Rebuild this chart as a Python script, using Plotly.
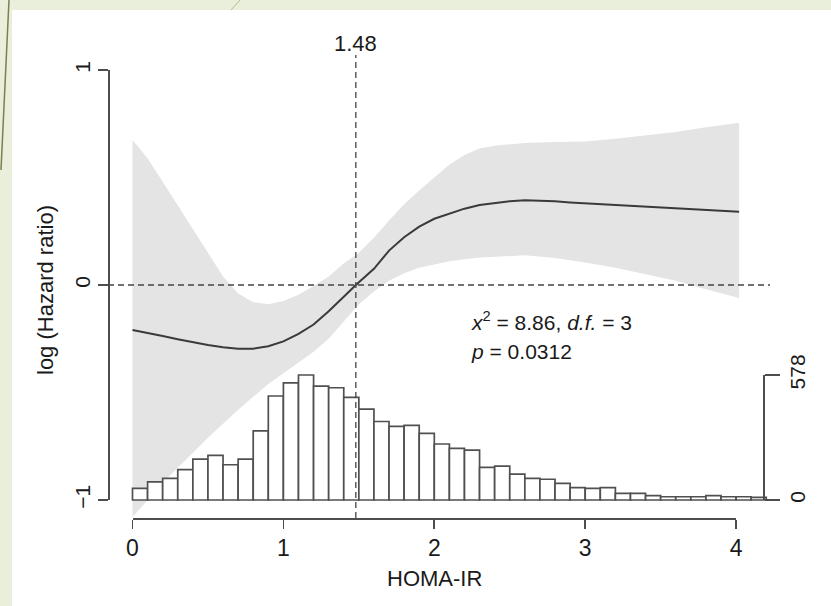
import plotly.graph_objects as go

W, H = 831, 606

# ---------------- data ----------------
curve_x = [0.00, 0.10, 0.20, 0.30, 0.40, 0.50, 0.60, 0.70, 0.80, 0.90, 1.00, 1.10, 1.20,
           1.30, 1.40, 1.48, 1.60, 1.70, 1.80, 1.90, 2.00, 2.10, 2.20, 2.30, 2.40, 2.50,
           2.60, 2.70, 2.80, 2.90, 3.00, 3.20, 3.40, 3.60, 3.80, 4.02]
curve_y = [-0.209, -0.222, -0.237, -0.252, -0.266, -0.279, -0.290, -0.296, -0.296, -0.285,
           -0.262, -0.227, -0.184, -0.122, -0.055, 0.000, 0.075, 0.160, 0.222, 0.271,
           0.308, 0.332, 0.355, 0.372, 0.382, 0.390, 0.394, 0.393, 0.389, 0.384, 0.380,
           0.372, 0.365, 0.358, 0.350, 0.341]

band_x = [0.00, 0.10, 0.20, 0.30, 0.40, 0.50, 0.60, 0.70, 0.80, 0.90, 1.00, 1.10, 1.20,
          1.30, 1.40, 1.50, 1.60, 1.70, 1.80, 1.90, 2.00, 2.10, 2.20, 2.30, 2.40, 2.60,
          2.80, 3.00, 3.20, 3.40, 3.60, 3.80, 4.02]
band_upper = [0.674, 0.59, 0.48, 0.37, 0.26, 0.145, 0.04, -0.04, -0.08, -0.09, -0.075,
              -0.045, -0.005, 0.04, 0.10, 0.15, 0.22, 0.30, 0.375, 0.44, 0.50, 0.56, 0.605,
              0.635, 0.648, 0.66, 0.665, 0.668, 0.68, 0.695, 0.712, 0.734, 0.755]
band_lower = [-1.08, -1.00, -0.92, -0.85, -0.78, -0.71, -0.645, -0.58, -0.52, -0.46, -0.41,
              -0.36, -0.31, -0.25, -0.17, -0.09, -0.03, 0.02, 0.055, 0.08, 0.095, 0.11,
              0.12, 0.128, 0.133, 0.138, 0.125, 0.105, 0.08, 0.05, 0.02, -0.02, -0.06]

hist_counts = [54, 84, 100, 140, 189, 206, 163, 189, 320, 481, 542, 578, 527, 519, 475,
               420, 363, 340, 345, 308, 259, 239, 231, 151, 157, 120, 100, 96, 77, 57,
               54, 57, 31, 31, 20, 15, 15, 15, 20, 15, 15, 12]
BIN_W = 0.1
hist_centers = [BIN_W * (i + 0.5) for i in range(len(hist_counts))]

x_ticks = [0, 1, 2, 3, 4]
y_ticks = [-1, 0, 1]
y_ticktext = ["\u22121", "0", "1"]
count_max = 578
cut_point = 1.48

# ---------------- pixel mapping helpers ----------------
X0_PX, PX_PER_X = 132.5, 150.9      # x = 0 at px 132.5
Y0_PX, PX_PER_V = 285.0, 215.0      # logHR = 0 at py 285


def px2x(px):
    return (px - X0_PX) / PX_PER_X


def py2v(py):
    return (Y0_PX - py) / PX_PER_V


def pfx(px):
    return px / W


def pfy(py):
    return 1 - py / H


HIST_BASE_PY, HIST_TOP_PY = 500.0, 375.0
cnt_per_px = count_max / (HIST_BASE_PY - HIST_TOP_PY)
cnt_range = [-(H - HIST_BASE_PY) * cnt_per_px, HIST_BASE_PY * cnt_per_px]

FONT = "Arial, Liberation Sans, Helvetica, sans-serif"
TXT = "#1a1a1a"
AX = "#4d4d4d"

fig = go.Figure()

# confidence band
fig.add_trace(go.Scatter(
    x=band_x + band_x[::-1], y=band_upper + band_lower[::-1],
    fill="toself", fillcolor="#e4e4e4", line=dict(width=0), mode="lines",
    hoverinfo="skip", showlegend=False))

# spline curve
fig.add_trace(go.Scatter(
    x=curve_x, y=curve_y, mode="lines", line=dict(color="#3a3a3a", width=2),
    showlegend=False))

# histogram
fig.add_trace(go.Bar(
    x=hist_centers, y=hist_counts, width=BIN_W, yaxis="y2",
    marker=dict(color="white", line=dict(color="#505050", width=1.7)),
    showlegend=False))

# dummy traces to create the axis subplots
fig.add_trace(go.Scatter(x=[None], y=[None], xaxis="x2", yaxis="y", showlegend=False))
fig.add_trace(go.Scatter(x=[None], y=[None], xaxis="x", yaxis="y3", showlegend=False))
fig.add_trace(go.Scatter(x=[None], y=[None], xaxis="x", yaxis="y4", showlegend=False))

hidden = dict(visible=False, showgrid=False, zeroline=False, fixedrange=True)

fig.update_layout(
    width=W, height=H, margin=dict(l=0, r=0, t=0, b=0),
    template="none",
    paper_bgcolor="#e9efda", plot_bgcolor="rgba(0,0,0,0)",
    showlegend=False, bargap=0,
    xaxis=dict(range=[px2x(0), px2x(W)], domain=[0, 1], **hidden),
    yaxis=dict(range=[py2v(H), py2v(0)], domain=[0, 1], **hidden),
    yaxis2=dict(range=cnt_range, overlaying="y", **hidden),
    xaxis2=dict(
        domain=[pfx(X0_PX), pfx(X0_PX + 4 * PX_PER_X)], range=[0, 4],
        anchor="free", position=pfy(518), side="bottom",
        showline=True, linecolor=AX, linewidth=1.7,
        ticks="outside", ticklen=9, tickwidth=1.7, tickcolor=AX,
        tickvals=x_ticks, tickfont=dict(family=FONT, size=23, color=TXT),
        showgrid=False, zeroline=False, fixedrange=True),
    yaxis3=dict(
        domain=[pfy(HIST_BASE_PY), pfy(HIST_TOP_PY)], range=[0, count_max],
        anchor="free", position=pfx(763), side="right",
        showline=True, linecolor=AX, linewidth=1.7,
        ticks="outside", ticklen=15, tickwidth=1.7, tickcolor=AX,
        tickvals=[0, count_max], tickangle=-90,
        tickfont=dict(family=FONT, size=21, color=TXT),
        showgrid=False, zeroline=False, fixedrange=True),
    yaxis4=dict(
        domain=[pfy(500), pfy(70)], range=[-1, 1],
        anchor="free", position=pfx(108), side="left",
        showline=True, linecolor=AX, linewidth=1.7,
        ticks="outside", ticklen=10, tickwidth=1.7, tickcolor=AX,
        tickvals=y_ticks, ticktext=y_ticktext, tickangle=-90,
        tickfont=dict(family=FONT, size=21, color=TXT),
        showgrid=False, zeroline=False, fixedrange=True),
)

shapes = [
    # white picture area over slide background
    dict(type="rect", xref="paper", yref="paper", x0=pfx(12), x1=1, y0=0, y1=pfy(10),
         fillcolor="white", line=dict(width=0), layer="below"),
    # decorative slide lines
    dict(type="line", xref="paper", yref="paper", x0=pfx(9), y0=1, x1=pfx(1), y1=pfy(170),
         line=dict(color="#7d7f4e", width=1.5), layer="below"),
    dict(type="line", xref="paper", yref="paper", x0=pfx(240), y0=1, x1=pfx(231), y1=pfy(10),
         line=dict(color="#b7bb95", width=1), layer="below"),
    # reference lines
    dict(type="line", xref="x", yref="y", x0=px2x(108), x1=px2x(770), y0=0, y1=0,
         line=dict(color="#444444", width=1.3, dash="6px,4px"), layer="above"),
    dict(type="line", xref="x", yref="paper", x0=cut_point, x1=cut_point,
         y0=pfy(518), y1=pfy(55),
         line=dict(color="#444444", width=1.3, dash="6px,4px"), layer="above"),
]
fig.update_layout(shapes=shapes)

annotations = [
    dict(text=f"{cut_point:.2f}", xref="x", yref="paper", x=cut_point, y=pfy(44),
         showarrow=False, font=dict(family=FONT, size=22, color=TXT),
         xanchor="center", yanchor="middle"),
    dict(text="HOMA-IR", xref="x", yref="paper", x=2, y=pfy(578),
         showarrow=False, font=dict(family=FONT, size=22, color=TXT),
         xanchor="center", yanchor="middle"),
    dict(text="log (Hazard ratio)", xref="paper", yref="paper", x=pfx(45), y=pfy(290),
         textangle=-90, showarrow=False, font=dict(family=FONT, size=22, color=TXT),
         xanchor="center", yanchor="middle"),
    dict(text="<i>x</i><sup>2</sup> = 8.86, <i>d.f.</i> = 3", xref="paper", yref="paper",
         x=pfx(469), y=pfy(321), showarrow=False,
         font=dict(family=FONT, size=21, color=TXT), xanchor="left", yanchor="middle"),
    dict(text="<i>p</i> = 0.0312", xref="paper", yref="paper",
         x=pfx(469), y=pfy(351), showarrow=False,
         font=dict(family=FONT, size=21, color=TXT), xanchor="left", yanchor="middle"),
]
fig.update_layout(annotations=annotations)

fig.write_html("out.html", config={"displayModeBar": False, "staticPlot": True})
